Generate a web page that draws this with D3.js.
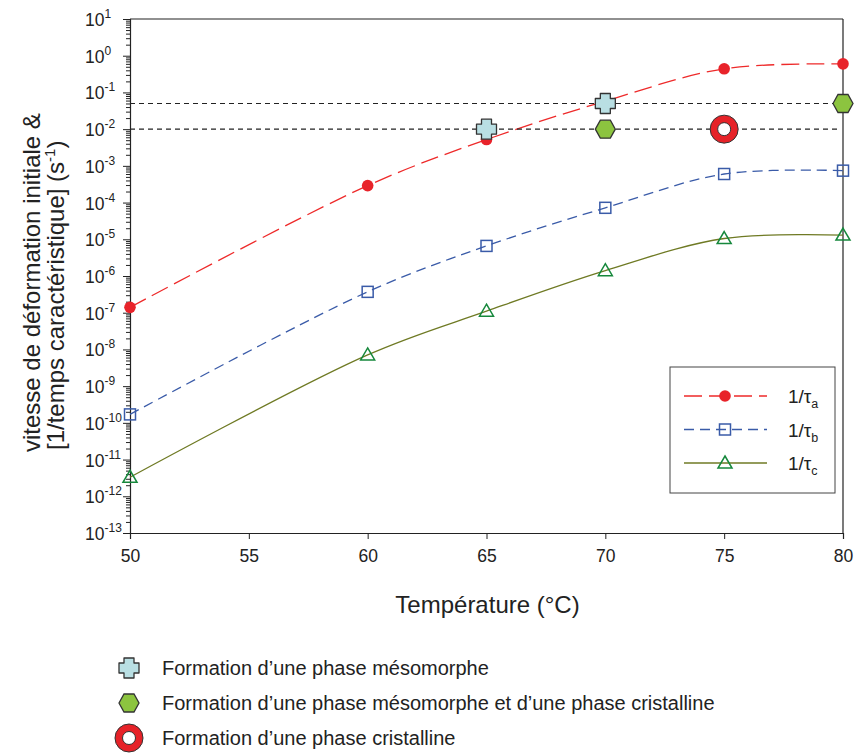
<!DOCTYPE html>
<html>
<head>
<meta charset="utf-8">
<script src="https://cdn.jsdelivr.net/npm/d3@7"></script>
<style>
  body { margin: 0; background: #fff; }
  svg { font-family: "Liberation Sans", Arial, sans-serif; }
</style>
</head>
<body>
<svg width="855" height="754"></svg>
<script>
// temperatures (°C) and rates (s^-1)
var temps = [50, 60, 65, 70, 75, 80];
var tauA = [1.4e-7, 2.9e-4, 5.2e-3, 0.058, 0.44, 0.6];
var tauB = [1.7e-10, 3.7e-7, 6.6e-6, 7.2e-5, 6.0e-4, 7.4e-4];
var tauC = [3.3e-12, 7.1e-9, 1.1e-7, 1.4e-6, 1.05e-5, 1.3e-5];

// phase markers
var mesoT = [65, 70], mesoV = [0.01, 0.05];
var bothT = [70, 80], bothV = [0.01, 0.05];
var crystT = [75], crystV = [0.01];

var thresholds = [0.05, 0.01];

var xTicks = [50, 55, 60, 65, 70, 75, 80];
var yExponents = [1, 0, -1, -2, -3, -4, -5, -6, -7, -8, -9, -10, -11, -12, -13];

var legendLabels = ["Formation d\u2019une phase m\u00e9somorphe",
                    "Formation d\u2019une phase m\u00e9somorphe et d\u2019une phase cristalline",
                    "Formation d\u2019une phase cristalline"];

var svg = d3.select("svg"),
    margin = {top: 19, right: 12, bottom: 221, left: 130},
    width = 843 - margin.left,
    height = 533 - margin.top,
    g = svg.append("g").attr("transform", "translate(" + margin.left + "," + margin.top + ")");

var x = d3.scaleLinear().domain([50, 80]).range([0, width]);
var y = d3.scaleLog().domain([1e-13, 10]).range([height, 0]);

var axisColor = "#222";

// frame top / right
g.append("line").attr("x1", 0).attr("x2", width).attr("y1", 0).attr("y2", 0)
  .attr("stroke", axisColor).attr("stroke-width", 1.2);
g.append("line").attr("x1", width).attr("x2", width).attr("y1", 0).attr("y2", height)
  .attr("stroke", axisColor).attr("stroke-width", 1.2);

// x axis
var xAxis = g.append("g")
  .attr("transform", "translate(0," + height + ")")
  .call(d3.axisBottom(x).tickValues(xTicks).tickSize(6).tickPadding(11).tickFormat(d3.format("d")));
xAxis.select(".domain").attr("stroke", axisColor).attr("stroke-width", 1.2);
xAxis.selectAll(".tick line").attr("stroke", axisColor);
xAxis.selectAll(".tick text").attr("font-size", 17.5).attr("fill", "#222")
  .attr("font-family", "Liberation Sans, Arial, sans-serif");

// y axis: minor ticks
var minor = [];
yExponents.forEach(function(e) {
  if (e >= 1) return;
  for (var k = 2; k <= 9; k++) minor.push(k * Math.pow(10, e));
});
var yAxis = g.append("g")
  .call(d3.axisLeft(y).tickValues(minor).tickSize(4).tickFormat(""));
yAxis.select(".domain").attr("stroke", axisColor).attr("stroke-width", 1.2);
yAxis.selectAll(".tick line").attr("stroke", axisColor);

var yMajor = g.append("g")
  .call(d3.axisLeft(y).tickValues(yExponents.map(function(e) { return Math.pow(10, e); }))
        .tickSize(7).tickFormat(""));
yMajor.select(".domain").remove();
yMajor.selectAll(".tick line").attr("stroke", axisColor);

// y tick labels with superscripts
var yLab = svg.append("g");
yExponents.forEach(function(e) {
  var t = yLab.append("text")
    .attr("x", 85).attr("y", margin.top + y(Math.pow(10, e)) + 7)
    .attr("fill", "#222");
  t.append("tspan").attr("font-size", 17.5).text("10");
  t.append("tspan").attr("font-size", 12).attr("dy", -8)
    .text(e < 0 ? "-" + (-e) : "" + e);
});

// axis titles
svg.append("text")
  .attr("x", margin.left + width / 2 + 1).attr("y", 613)
  .attr("text-anchor", "middle").attr("font-size", 24).attr("fill", "#222")
  .text("Temp\u00e9rature (\u00b0C)");

var yt = svg.append("g").attr("transform", "rotate(-90)");
yt.append("text").attr("x", -452).attr("y", 40)
  .attr("font-size", 24).attr("fill", "#222")
  .text("vitesse de d\u00e9formation initiale &");
var l2 = yt.append("text").attr("x", -450).attr("y", 64)
  .attr("font-size", 24).attr("fill", "#222");
l2.append("tspan").text("[1/temps caract\u00e9ristique] (s");
l2.append("tspan").attr("font-size", 15).attr("dy", -9).text("-1");
l2.append("tspan").attr("dy", 9).text(")");

// series
var series = [
  {name: "a", values: tauA, color: "#e8232a", dash: "18,7", line: "#ee2a2a"},
  {name: "b", values: tauB, color: "#3a5ba8", dash: "10,6", line: "#3a5ba8"},
  {name: "c", values: tauC, color: "#16883c", dash: null, line: "#6f7a24"}
];

var line = d3.line()
  .curve(d3.curveCatmullRom.alpha(0.5))
  .x(function(d) { return x(d[0]); })
  .y(function(d) { return y(d[1]); });

series.forEach(function(s) {
  g.append("path")
    .datum(temps.map(function(t, i) { return [t, s.values[i]]; }))
    .attr("d", line)
    .attr("fill", "none")
    .attr("stroke", s.line)
    .attr("stroke-width", 1.3)
    .attr("stroke-dasharray", s.dash);
});

// threshold dashed lines
g.selectAll(".thr").data(thresholds).enter().append("line")
  .attr("x1", x(50)).attr("x2", x(79.8))
  .attr("y1", function(d) { return y(d); }).attr("y2", function(d) { return y(d); })
  .attr("stroke", "#222").attr("stroke-width", 1.1).attr("stroke-dasharray", "5,4");

// marker shapes
function drawMarker(sel, kind, color) {
  if (kind === "a") {
    sel.append("circle").attr("r", 5.8).attr("fill", color);
  } else if (kind === "b") {
    sel.append("rect").attr("x", -5.5).attr("y", -5.5).attr("width", 11).attr("height", 11)
      .attr("fill", "none").attr("stroke", color).attr("stroke-width", 1.5);
  } else if (kind === "c") {
    sel.append("path").attr("d", "M0,-7L7,5L-7,5Z")
      .attr("fill", "none").attr("stroke", color).attr("stroke-width", 1.5);
  } else if (kind === "cross") {
    sel.append("path")
      .attr("d", "M-5,-10H5V-5H10V5H5V10H-5V5H-10V-5H-5Z")
      .attr("fill", "#b9dfe3").attr("stroke", "#333").attr("stroke-width", 1.3)
      .attr("stroke-linejoin", "round");
  } else if (kind === "hex") {
    sel.append("path")
      .attr("d", "M-10,0L-5,-9H5L10,0L5,9H-5Z")
      .attr("fill", "#8cc43f").attr("stroke", "#333").attr("stroke-width", 1.3);
  } else if (kind === "ring") {
    sel.append("circle").attr("r", 14).attr("fill", "#e62228").attr("stroke", "#333").attr("stroke-width", 1);
    sel.append("circle").attr("r", 6.5).attr("fill", "#fff").attr("stroke", "#333").attr("stroke-width", 1);
  }
}

series.forEach(function(s) {
  temps.forEach(function(t, i) {
    var m = g.append("g").attr("transform", "translate(" + x(t) + "," + y(s.values[i]) + ")");
    drawMarker(m, s.name, s.color);
  });
});

mesoT.forEach(function(t, i) {
  drawMarker(g.append("g").attr("transform", "translate(" + x(t) + "," + y(mesoV[i]) + ")"), "cross");
});
bothT.forEach(function(t, i) {
  drawMarker(g.append("g").attr("transform", "translate(" + x(t) + "," + y(bothV[i]) + ")"), "hex");
});
crystT.forEach(function(t, i) {
  drawMarker(g.append("g").attr("transform", "translate(" + x(t) + "," + y(crystV[i]) + ")"), "ring");
});

// series legend box
var lg = svg.append("g").attr("transform", "translate(670,367)");
lg.append("rect").attr("width", 165).attr("height", 126)
  .attr("fill", "#fff").attr("stroke", "#444").attr("stroke-width", 1);
series.forEach(function(s, i) {
  var yy = 29 + i * 33.5;
  lg.append("line").attr("x1", 14).attr("x2", 97).attr("y1", yy).attr("y2", yy)
    .attr("stroke", s.line).attr("stroke-width", 1.3).attr("stroke-dasharray", s.dash);
  drawMarker(lg.append("g").attr("transform", "translate(55," + yy + ")"), s.name, s.color);
  var t = lg.append("text").attr("x", 118).attr("y", yy + 7).attr("fill", "#222").attr("font-size", 19);
  t.append("tspan").text("1/\u03c4");
  t.append("tspan").attr("font-size", 12.5).attr("dy", 5).text(s.name);
});

// phase legend
var kinds = ["cross", "hex", "ring"];
var rowY = [668, 703, 738];
kinds.forEach(function(k, i) {
  drawMarker(svg.append("g").attr("transform", "translate(129," + rowY[i] + ")"), k);
  svg.append("text").attr("x", 162).attr("y", rowY[i] + 7)
    .attr("font-size", 20).attr("fill", "#222").text(legendLabels[i]);
});
</script>
</body>
</html>
